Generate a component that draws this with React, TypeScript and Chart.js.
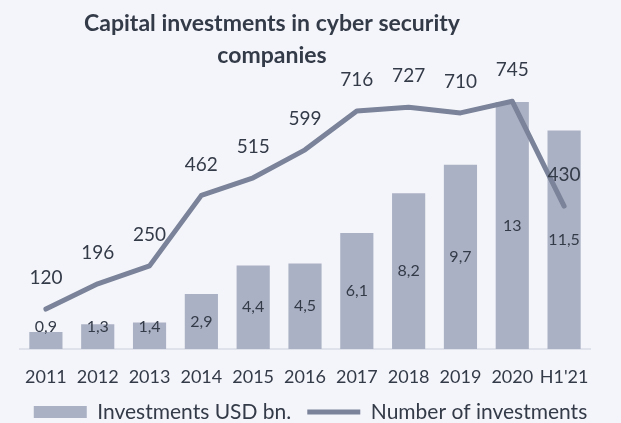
import React, { useEffect, useRef } from "react";
import { Chart, registerables } from "chart.js";

Chart.register(...registerables);

const categories = ["2011", "2012", "2013", "2014", "2015", "2016", "2017", "2018", "2019", "2020", "H1'21"];
const investmentsUsdBn = [0.9, 1.3, 1.4, 2.9, 4.4, 4.5, 6.1, 8.2, 9.7, 13, 11.5];
const numberOfInvestments = [120, 196, 250, 462, 515, 599, 716, 727, 710, 745, 430];
const titleLines = ["Capital investments in cyber security", "companies"];

const FONT = "Lato, 'Open Sans', sans-serif";
const BG = "#f4f5fa";
const BAR = "#abb1c4";
const LINE = "#7a8399";
const TEXT = "#343b48";

const fmt = (v: number) => String(v).replace(".", ",");

const labelPlugin = {
  id: "valueLabels",
  afterDatasetsDraw(chart: any) {
    const ctx = chart.ctx;
    ctx.save();
    ctx.fillStyle = TEXT;
    ctx.textAlign = "center";
    ctx.textBaseline = "middle";
    const barMeta = chart.getDatasetMeta(0);
    ctx.font = `16px ${FONT}`;
    barMeta.data.forEach((el: any, i: number) => {
      const y = Math.min((el.y + el.base) / 2, el.base - 22);
      ctx.fillText(fmt(investmentsUsdBn[i]), el.x, y);
    });
    const lineMeta = chart.getDatasetMeta(1);
    ctx.font = `19px ${FONT}`;
    lineMeta.data.forEach((el: any, i: number) => {
      ctx.fillText(String(numberOfInvestments[i]), el.x, el.y - 31);
    });
    ctx.restore();
  },
};

const titlePlugin = {
  id: "customTitle",
  afterDraw(chart: any) {
    const ctx = chart.ctx;
    ctx.save();
    ctx.fillStyle = TEXT;
    ctx.textAlign = "center";
    ctx.textBaseline = "alphabetic";
    ctx.font = `bold 23px ${FONT}`;
    ctx.fillText(titleLines[0], 272, 31);
    ctx.fillText(titleLines[1], 272, 63);
    ctx.restore();
  },
};

export default function App() {
  const ref = useRef<HTMLCanvasElement | null>(null);
  useEffect(() => {
    document.body.style.margin = "0";
    document.body.style.background = BG;
    const chart = new Chart(ref.current as HTMLCanvasElement, {
      type: "bar",
      data: {
        labels: categories,
        datasets: [
          {
            type: "bar",
            label: "Investments USD bn.",
            data: investmentsUsdBn,
            backgroundColor: BAR,
            borderWidth: 0,
            barPercentage: 0.64,
            categoryPercentage: 1,
            yAxisID: "y",
            order: 2,
            pointStyle: "rect",
          } as any,
          {
            type: "line",
            label: "Number of investments",
            data: numberOfInvestments,
            borderColor: LINE,
            backgroundColor: LINE,
            borderWidth: 5,
            pointRadius: 0,
            tension: 0,
            borderCapStyle: "round",
            borderJoinStyle: "round",
            yAxisID: "y1",
            order: 1,
            pointStyle: "line",
          } as any,
        ],
      },
      options: {
        responsive: false,
        animation: false,
        layout: { padding: { left: 0, right: 0, top: 83, bottom: -9.5 } },
        scales: {
          x: {
            offset: true,
            grid: { display: false, drawTicks: false },
            border: { display: true, color: "#dfe2ea", width: 2 },
            ticks: { color: TEXT, font: { family: FONT, size: 18 }, padding: 17, maxRotation: 0, autoSkip: false },
            afterFit: (scale: any) => {
              scale.height = 36.5;
            },
          },
          y: {
            position: "left",
            min: 0,
            max: 14,
            grid: { display: false, drawTicks: false },
            border: { display: false },
            ticks: { display: false },
            afterFit: (scale: any) => {
              scale.width = 20;
            },
          },
          y1: {
            position: "right",
            min: 0,
            max: 800,
            grid: { display: false, drawTicks: false },
            border: { display: false },
            ticks: { display: false },
            afterFit: (scale: any) => {
              scale.width = 31;
            },
          },
        },
        plugins: {
          title: { display: false },
          tooltip: { enabled: false },
          legend: {
            position: "bottom",
            labels: {
              usePointStyle: true,
              pointStyleWidth: 53,
              boxHeight: 12,
              padding: 16,
              color: TEXT,
              font: { family: FONT, size: 21 },
              sort: (a: any, b: any) => a.datasetIndex - b.datasetIndex,
            },
          },
        },
      },
      plugins: [labelPlugin, titlePlugin],
    });
    return () => chart.destroy();
  }, []);
  return <canvas ref={ref} width={621} height={423} style={{ display: "block", background: BG }} />;
}
